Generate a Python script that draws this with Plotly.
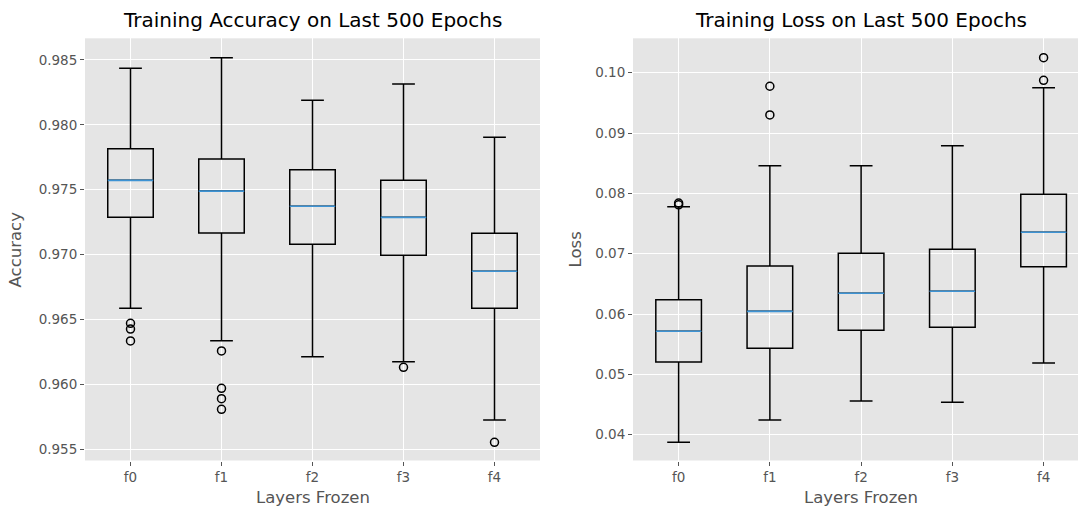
import plotly.graph_objects as go

categories = ["f0", "f1", "f2", "f3", "f4"]

# Accuracy box statistics
acc_lower = [0.96587, 0.96337, 0.96214, 0.96175, 0.95726]
acc_q1 = [0.97288, 0.97167, 0.97080, 0.96995, 0.96587]
acc_median = [0.97573, 0.97490, 0.97373, 0.97288, 0.96872]
acc_q3 = [0.97816, 0.97737, 0.97655, 0.97573, 0.97165]
acc_upper = [0.98436, 0.98518, 0.98189, 0.98315, 0.97904]
acc_outlier_cat = ["f0", "f0", "f0", "f1", "f1", "f1", "f1", "f3", "f4"]
acc_outlier_val = [0.96471, 0.96427, 0.96335, 0.96258, 0.95970, 0.95890, 0.95808, 0.96132, 0.95554]

# Loss box statistics
loss_lower = [0.03874, 0.04244, 0.04558, 0.04537, 0.05188]
loss_q1 = [0.05205, 0.05432, 0.05730, 0.05780, 0.06785]
loss_median = [0.05714, 0.06045, 0.06344, 0.06377, 0.07355]
loss_q3 = [0.06238, 0.06796, 0.07007, 0.07073, 0.07985]
loss_upper = [0.07779, 0.08459, 0.08459, 0.08790, 0.09752]
loss_outlier_cat = ["f0", "f0", "f1", "f1", "f4", "f4"]
loss_outlier_val = [0.0784, 0.0781, 0.09775, 0.09299, 0.10249, 0.09874]

acc_ticks = [0.955, 0.960, 0.965, 0.970, 0.975, 0.980, 0.985]
loss_ticks = [0.04, 0.05, 0.06, 0.07, 0.08, 0.09, 0.10]

pos = list(range(1, len(categories) + 1))
cat_pos = {c: i + 1 for i, c in enumerate(categories)}

W, H = 1078, 510
FONT = "DejaVu Sans"
MEDIAN_COLOR = "#3d93d4"

fig = go.Figure()


def add_panel(lower, q1, med, q3, upper, out_cat, out_val, xa, ya):
    # black box outline + whiskers
    fig.add_trace(go.Box(
        x=pos, q1=q1, median=med, q3=q3, lowerfence=lower, upperfence=upper,
        width=0.5, whiskerwidth=0.5, boxpoints=False,
        line=dict(color="black", width=1.5), fillcolor="rgba(0,0,0,0)",
        xaxis=xa, yaxis=ya, showlegend=False, hoverinfo="skip"))
    # blue median line drawn over the black one
    fig.add_trace(go.Box(
        x=pos, q1=med, median=med, q3=med, lowerfence=med, upperfence=med,
        width=0.5, whiskerwidth=0, boxpoints=False,
        line=dict(color=MEDIAN_COLOR, width=1.7), fillcolor="rgba(0,0,0,0)",
        xaxis=xa, yaxis=ya, showlegend=False, hoverinfo="skip"))
    fig.add_trace(go.Scatter(
        x=[cat_pos[c] for c in out_cat], y=out_val, mode="markers",
        marker=dict(symbol="circle-open", size=8, color="black", line=dict(width=1.5, color="black")),
        xaxis=xa, yaxis=ya, showlegend=False, hoverinfo="skip"))


add_panel(acc_lower, acc_q1, acc_median, acc_q3, acc_upper, acc_outlier_cat, acc_outlier_val, "x", "y")
add_panel(loss_lower, loss_q1, loss_median, loss_q3, loss_upper, loss_outlier_cat, loss_outlier_val, "x2", "y2")

ydom = [1 - 460.5 / H, 1 - 38.3 / H]
tickfont = dict(family=FONT, size=13.5, color="#555555")

xcommon = dict(tickvals=pos, ticktext=categories, ticks="outside", ticklen=4, tickcolor="#555555",
               tickfont=tickfont, showgrid=True, gridcolor="white", gridwidth=1, zeroline=False,
               showline=False, automargin=False)
ycommon = dict(ticks="outside", ticklen=4, tickcolor="#555555", tickfont=tickfont,
               showgrid=True, gridcolor="white", gridwidth=1, zeroline=False, showline=False,
               automargin=False, domain=ydom)

fig.update_layout(
    width=W, height=H,
    margin=dict(l=0, r=0, t=0, b=0),
    paper_bgcolor="white", plot_bgcolor="#E5E5E5",
    font=dict(family=FONT),
    xaxis=dict(domain=[85 / W, 540 / W], range=[0.5, 5.5], anchor="y", **xcommon),
    yaxis=dict(range=[0.95414, 0.98667], tickvals=acc_ticks, ticktext=[f"{t:.3f}" for t in acc_ticks],
               anchor="x", **ycommon),
    xaxis2=dict(domain=[633 / W, 1.0], range=[0.5, 5.377], anchor="y2", **xcommon),
    yaxis2=dict(range=[0.03572, 0.10570], tickvals=loss_ticks, ticktext=[f"{t:.2f}" for t in loss_ticks],
                anchor="x2", **ycommon),
)

ann = [
    dict(text="Training Accuracy on Last 500 Epochs", x=312.5 / W, y=ydom[1], xref="paper", yref="paper",
         xanchor="center", yanchor="bottom", yshift=4, showarrow=False,
         font=dict(family=FONT, size=20, color="black")),
    dict(text="Training Loss on Last 500 Epochs", x=860.5 / W, y=ydom[1], xref="paper", yref="paper",
         xanchor="center", yanchor="bottom", yshift=4, showarrow=False,
         font=dict(family=FONT, size=20, color="black")),
    dict(text="Layers Frozen", x=312.5 / W, y=1 - 497 / H, xref="paper", yref="paper",
         xanchor="center", yanchor="middle", showarrow=False,
         font=dict(family=FONT, size=16.5, color="#555555")),
    dict(text="Layers Frozen", x=860.5 / W, y=1 - 497 / H, xref="paper", yref="paper",
         xanchor="center", yanchor="middle", showarrow=False,
         font=dict(family=FONT, size=16.5, color="#555555")),
    dict(text="Accuracy", x=15 / W, y=(ydom[0] + ydom[1]) / 2, xref="paper", yref="paper",
         xanchor="center", yanchor="middle", textangle=-90, showarrow=False,
         font=dict(family=FONT, size=16.5, color="#555555")),
    dict(text="Loss", x=575 / W, y=(ydom[0] + ydom[1]) / 2, xref="paper", yref="paper",
         xanchor="center", yanchor="middle", textangle=-90, showarrow=False,
         font=dict(family=FONT, size=16.5, color="#555555")),
]
fig.update_layout(annotations=ann)

fig.write_html("out.html", config={"displayModeBar": False},
               post_script="document.body.style.margin='0px';document.body.style.padding='0px';")
